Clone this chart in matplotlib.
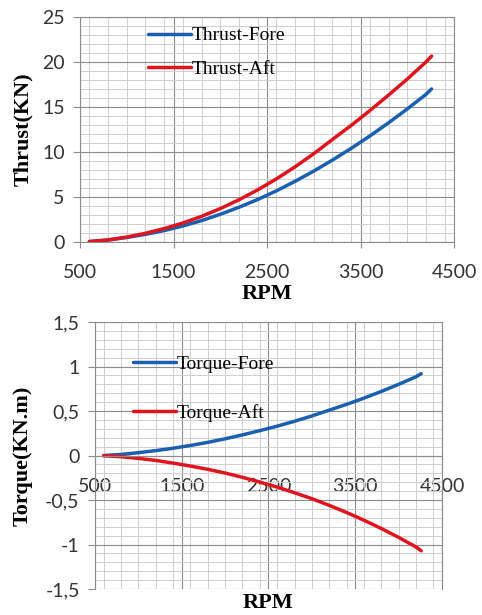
import matplotlib
matplotlib.use("Agg")
import matplotlib.pyplot as plt
from matplotlib.ticker import MultipleLocator

rpm = [600, 800, 1000, 1200, 1400, 1600, 1800, 2000, 2200, 2400, 2600,
       2800, 3000, 3200, 3400, 3600, 3800, 4000, 4200, 4260]
thrust_fore = [0.05, 0.22, 0.50, 0.85, 1.27, 1.78, 2.38, 3.08, 3.86, 4.72, 5.68,
               6.74, 7.88, 9.10, 10.40, 11.78, 13.24, 14.78, 16.40, 17.0]
thrust_aft = [0.05, 0.23, 0.55, 0.97, 1.49, 2.11, 2.85, 3.71, 4.69, 5.79, 7.01,
              8.35, 9.81, 11.39, 12.95, 14.6, 16.32, 18.1, 20.0, 20.65]
torque_fore = [0.0, 0.012, 0.032, 0.055, 0.082, 0.113, 0.148, 0.188, 0.232, 0.28, 0.33,
               0.385, 0.445, 0.51, 0.575, 0.645, 0.72, 0.80, 0.885, 0.92]
torque_aft = [-0.003, -0.013, -0.032, -0.055, -0.085, -0.118, -0.155, -0.197, -0.245, -0.298, -0.355,
              -0.418, -0.485, -0.56, -0.64, -0.727, -0.82, -0.92, -1.028, -1.07]

x_ticks = [500, 1500, 2500, 3500, 4500]
thrust_ticks = [0, 5, 10, 15, 20, 25]
torque_ticks = [-1.5, -1, -0.5, 0, 0.5, 1, 1.5]
torque_labels = ["-1,5", "-1", "-0,5", "0", "0,5", "1", "1,5"]

blue = "#1a5fb0"
red = "#e0141e"
serif = "Liberation Serif"

plt.rcParams["font.family"] = "Lato"
plt.rcParams["font.size"] = 14
plt.rcParams["xtick.color"] = "#8c8c8c"
plt.rcParams["ytick.color"] = "#8c8c8c"
plt.rcParams["xtick.labelcolor"] = "#333333"
plt.rcParams["ytick.labelcolor"] = "#333333"

fig = plt.figure(figsize=(4.82, 6.15), dpi=100)
ax1 = fig.add_axes([0.166, 0.6065, 0.776, 0.366])
ax2 = fig.add_axes([0.197, 0.0423, 0.72, 0.434])


def style(ax, ystep_minor):
    ax.xaxis.set_minor_locator(MultipleLocator(200))
    ax.yaxis.set_minor_locator(MultipleLocator(ystep_minor))
    ax.grid(which="major", color="#8c8c8c", linewidth=0.8)
    ax.grid(which="minor", color="#cfcfcf", linewidth=0.7)
    ax.set_axisbelow(True)
    for s in ax.spines.values():
        s.set_color("#8c8c8c")
        s.set_linewidth(0.8)
    ax.tick_params(which="minor", length=0)
    ax.tick_params(axis="y", which="major", length=5, pad=6, labelsize=14)
    ax.tick_params(axis="x", which="major", length=4, pad=12, labelsize=14)


# thrust
ax1.plot(rpm, thrust_fore, color=blue, lw=2.5, label="Thrust-Fore", solid_capstyle="round")
ax1.plot(rpm, thrust_aft, color=red, lw=2.5, label="Thrust-Aft", solid_capstyle="round")
ax1.set_xlim(500, 4500)
ax1.set_ylim(0, 25)
ax1.set_xticks(x_ticks)
ax1.set_yticks(thrust_ticks)
style(ax1, 1)
ax1.set_xlabel("RPM", fontfamily=serif, fontweight="bold", fontsize=16)
ax1.set_ylabel("Thrust(KN)", fontfamily=serif, fontweight="bold", fontsize=16)
ax1.xaxis.set_label_coords(0.5, -0.187)
ax1.yaxis.set_label_coords(-0.126, 0.5)
fig.legend(handles=ax1.get_lines(), loc="center left", bbox_to_anchor=(0.307, 0.915),
           frameon=False, prop={"family": serif, "size": 14}, handlelength=2.2,
           handletextpad=0.05, labelspacing=0.8, borderpad=0, borderaxespad=0)

# torque
ax2.plot(rpm, torque_fore, color=blue, lw=2.5, label="Torque-Fore", solid_capstyle="round")
ax2.plot(rpm, torque_aft, color=red, lw=2.5, label="Torque-Aft", solid_capstyle="round")
ax2.set_xlim(500, 4500)
ax2.set_ylim(-1.5, 1.5)
ax2.spines["bottom"].set_position(("data", 0))
ax2.set_xticks(x_ticks)
ax2.set_yticks(torque_ticks)
ax2.set_yticklabels(torque_labels)
style(ax2, 0.1)
ax2.set_xlabel("RPM", fontfamily=serif, fontweight="bold", fontsize=16)
ax2.set_ylabel("Torque(KN.m)", fontfamily=serif, fontweight="bold", fontsize=16)
ax2.xaxis.set_label_coords(0.5, -0.015)
ax2.yaxis.set_label_coords(-0.179, 0.5)
fig.legend(handles=ax2.get_lines(), loc="center left", bbox_to_anchor=(0.276, 0.368),
           frameon=False, prop={"family": serif, "size": 14}, handlelength=2.2,
           handletextpad=0.05, labelspacing=1.6, borderpad=0, borderaxespad=0)

fig.savefig("out.png", dpi=100)
